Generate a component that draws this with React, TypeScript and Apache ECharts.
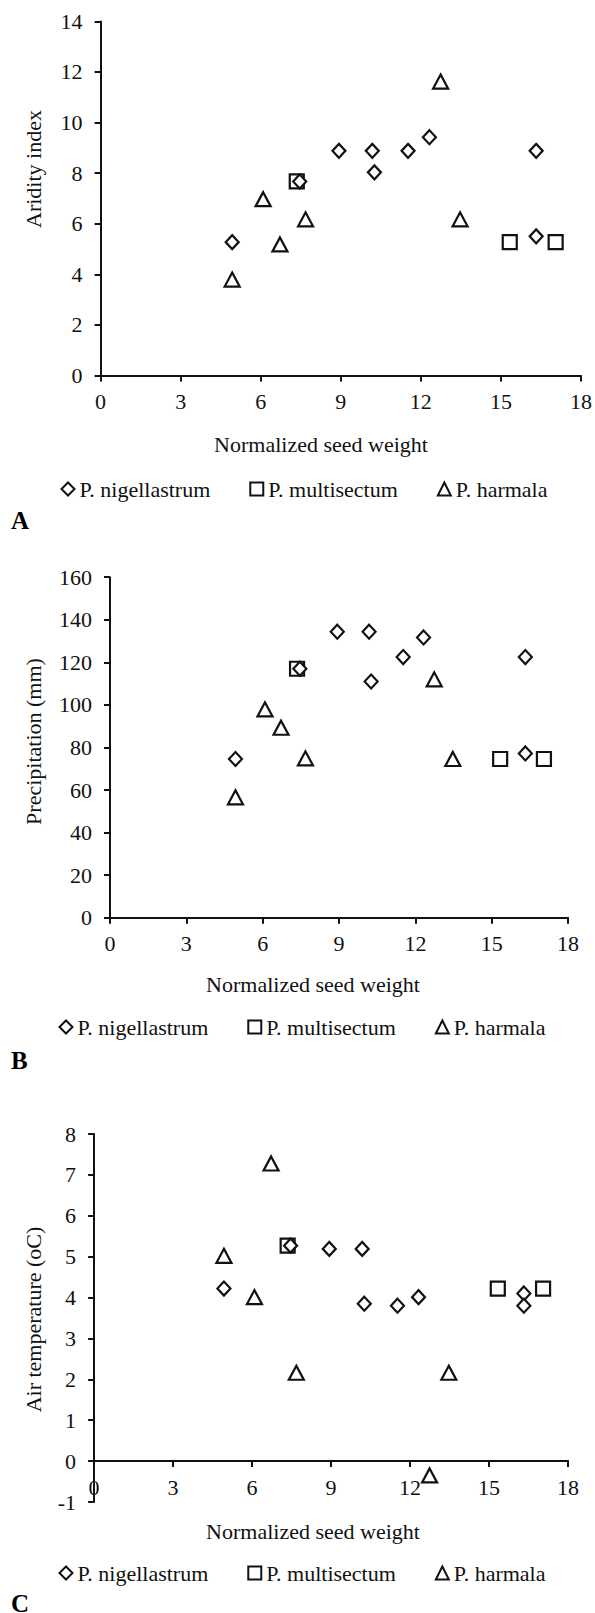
import React, { useEffect, useRef } from "react";
import * as echarts from "echarts";

// ---- Data ----
const seriesNames = ["P. nigellastrum", "P. multisectum", "P. harmala"];
const xTicks = [0, 3, 6, 9, 12, 15, 18];

// Normalized seed weight (x) per species
const nigellastrumX = [4.93, 7.46, 8.93, 10.18, 10.26, 11.52, 12.32, 16.32, 16.32];
const multisectumX = [7.35, 15.33, 17.05];
const harmalaX = [4.93, 6.09, 6.72, 7.68, 12.74, 13.47];

// Panel A: Aridity index
const aridityNigellastrum = [5.27, 7.67, 8.88, 8.88, 8.03, 8.88, 9.42, 8.88, 5.5];
const aridityMultisectum = [7.67, 5.27, 5.27];
const aridityHarmala = [3.79, 6.97, 5.18, 6.17, 11.62, 6.17];

// Panel B: Precipitation (mm)
const precipNigellastrum = [74.6, 117, 134.4, 134.4, 111, 122.5, 131.7, 122.5, 77.2];
const precipMultisectum = [117, 74.6, 74.6];
const precipHarmala = [56.6, 97.9, 89.3, 74.9, 112, 74.6];

// Panel C: Air temperature (oC)
const tempNigellastrum = [4.22, 5.27, 5.19, 5.19, 3.85, 3.8, 4.01, 4.1, 3.8];
const tempMultisectum = [5.27, 4.22, 4.22];
const tempHarmala = [5.02, 4.01, 7.28, 2.16, -0.35, 2.16];

const FONT = "'Liberation Serif', 'Times New Roman', serif";
const INK = "#111";

const zip = (xs: number[], ys: number[]) => xs.map((x, i) => [x, ys[i]]);

const panels = [
  {
    letter: "A",
    yTitle: "Aridity index",
    yMin: 0,
    yMax: 14,
    yInterval: 2,
    grid: { left: 100.6, top: 21.4, width: 481.9, height: 354 },
    yTitlePos: [33, 169],
    xTitlePos: [321, 444],
    legendPos: [60.5, 478],
    letterPos: [11, 520],
    ys: [aridityNigellastrum, aridityMultisectum, aridityHarmala],
  },
  {
    letter: "B",
    yTitle: "Precipitation (mm)",
    yMin: 0,
    yMax: 160,
    yInterval: 20,
    grid: { left: 110, top: 577.2, width: 458.1, height: 340.6 },
    yTitlePos: [33, 741.5],
    xTitlePos: [313, 984],
    legendPos: [58.5, 1016],
    letterPos: [11, 1060],
    ys: [precipNigellastrum, precipMultisectum, precipHarmala],
  },
  {
    letter: "C",
    yTitle: "Air temperature (oC)",
    yMin: -1,
    yMax: 8,
    yInterval: 1,
    grid: { left: 94.1, top: 1134, width: 474, height: 368 },
    yTitlePos: [33, 1319.5],
    xTitlePos: [313, 1531],
    legendPos: [58.5, 1562],
    letterPos: [11, 1603],
    ys: [tempNigellastrum, tempMultisectum, tempHarmala],
  },
];

const xsBySeries = [nigellastrumX, multisectumX, harmalaX];
const symbols = ["diamond", "rect", "triangle"];
const symbolSizes: any[] = [[13, 14], 14, [15, 14]];

function buildOption() {
  const grids: any[] = [];
  const xAxes: any[] = [];
  const yAxes: any[] = [];
  const series: any[] = [];
  const legends: any[] = [];
  const graphics: any[] = [];

  const axisLineStyle = { color: INK, width: 2 };

  panels.forEach((p, gi) => {
    grids.push({ ...p.grid, containLabel: false });
    // place the x axis (line, ticks, labels) on the y = 0 level
    const zeroOffset = p.yMin < 0 ? -((0 - p.yMin) / (p.yMax - p.yMin)) * p.grid.height : 0;
    xAxes.push({
      type: "value",
      gridIndex: gi,
      min: xTicks[0],
      max: xTicks[xTicks.length - 1],
      interval: 3,
      offset: zeroOffset,
      axisLine: { show: true, onZero: false, lineStyle: axisLineStyle },
      axisTick: { show: true, inside: false, length: 6, lineStyle: { color: INK, width: 2 } },
      axisLabel: { color: INK, fontFamily: FONT, fontSize: 22, margin: 15 },
      splitLine: { show: false },
    });
    yAxes.push({
      type: "value",
      gridIndex: gi,
      min: p.yMin,
      max: p.yMax,
      interval: p.yInterval,
      axisLine: { show: true, onZero: false, lineStyle: axisLineStyle },
      axisTick: { show: true, inside: false, length: 6, lineStyle: { color: INK, width: 2 } },
      axisLabel: { color: INK, fontFamily: FONT, fontSize: 22, margin: 18 },
      splitLine: { show: false },
    });

    seriesNames.forEach((name, si) => {
      series.push({
        type: "scatter",
        name,
        xAxisIndex: gi,
        yAxisIndex: gi,
        symbol: symbols[si],
        symbolSize: symbolSizes[si],
        z: si === 0 ? 4 : 3,
        itemStyle: { color: "#fff", borderColor: INK, borderWidth: 2.2, opacity: 1 },
        emphasis: { disabled: true },
        data: zip(xsBySeries[si], p.ys[si]),
      });
    });

    legends.push({
      show: true,
      data: seriesNames,
      orient: "horizontal",
      left: p.legendPos[0],
      top: p.legendPos[1],
      padding: 0,
      itemGap: 39,
      itemWidth: 13,
      itemHeight: 13,
      selectedMode: false,
      textStyle: { color: INK, fontFamily: FONT, fontSize: 22 },
      itemStyle: { color: "#fff", borderColor: INK, borderWidth: 2 },
    });

    graphics.push({
      type: "text",
      x: p.yTitlePos[0],
      y: p.yTitlePos[1],
      rotation: Math.PI / 2,
      style: {
        text: p.yTitle,
        fill: INK,
        font: `22px ${FONT}`,
        align: "center",
        verticalAlign: "middle",
      },
    });
    graphics.push({
      type: "text",
      x: p.xTitlePos[0],
      y: p.xTitlePos[1],
      style: {
        text: "Normalized seed weight",
        fill: INK,
        font: `22px ${FONT}`,
        align: "center",
        verticalAlign: "middle",
      },
    });
    graphics.push({
      type: "text",
      x: p.letterPos[0],
      y: p.letterPos[1],
      style: {
        text: p.letter,
        fill: "#000",
        font: `bold 25px ${FONT}`,
        align: "left",
        verticalAlign: "middle",
      },
    });
  });

  return {
    animation: false,
    backgroundColor: "#fff",
    grid: grids,
    xAxis: xAxes,
    yAxis: yAxes,
    series,
    legend: legends,
    graphic: graphics,
  };
}

export default function App() {
  const ref = useRef<HTMLDivElement>(null);
  useEffect(() => {
    if (!ref.current) return;
    const chart = echarts.init(ref.current, null, { renderer: "svg" });
    chart.setOption(buildOption() as any);
    return () => chart.dispose();
  }, []);
  return (
    <div
      ref={ref}
      style={{ position: "absolute", left: 0, top: 0, width: 595, height: 1613, background: "#fff" }}
    />
  );
}
